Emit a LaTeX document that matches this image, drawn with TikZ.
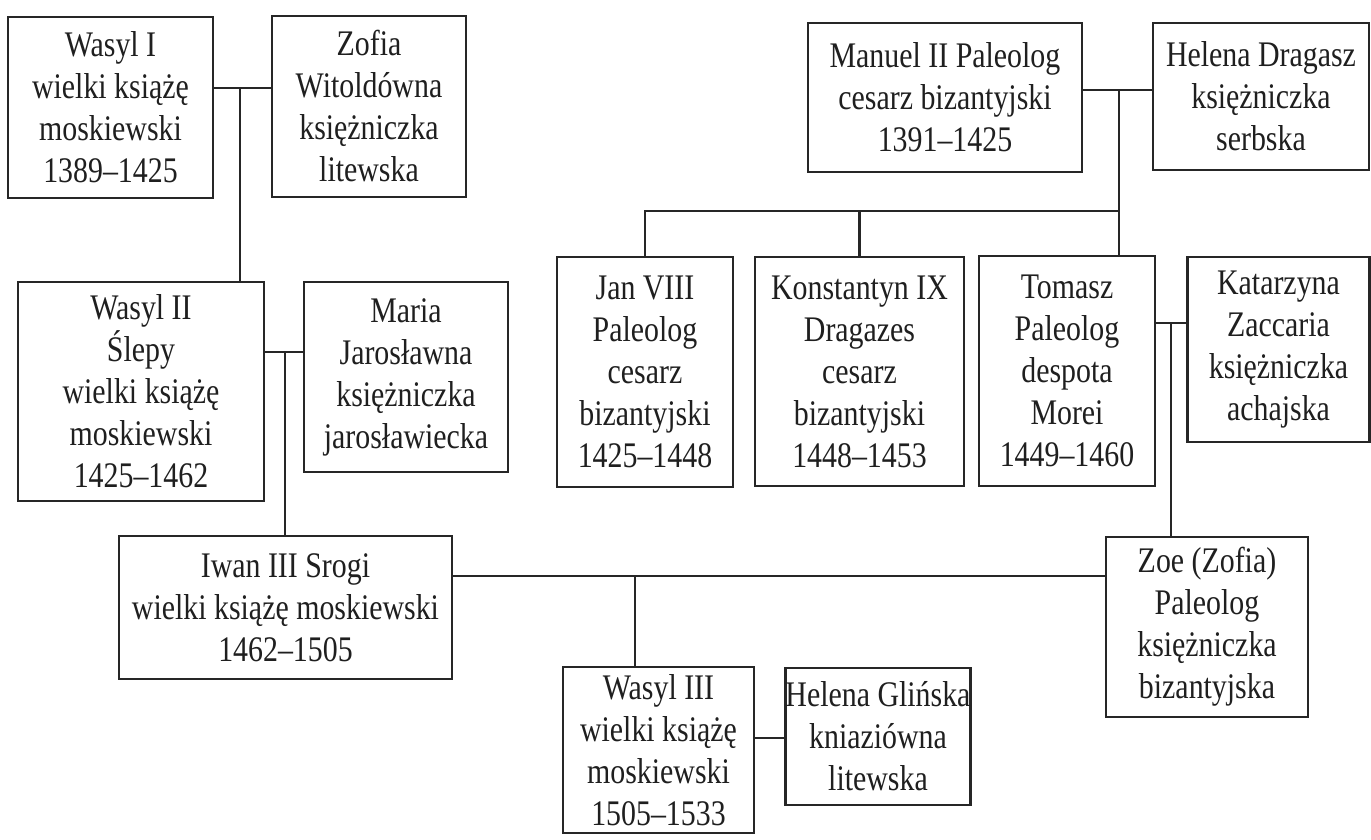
\documentclass[tikz,border=0pt]{standalone}
\usepackage{fontspec}
\setmainfont{Liberation Serif}[FakeStretch=0.83]
\begin{document}
\begin{tikzpicture}[x=1pt,y=-1pt,
  box/.style={draw=black!85, line width=2.6pt, inner sep=0pt, align=center,
    font=\fontsize{36}{42}\selectfont, text=black!88},
  conn/.style={draw=black!85, line width=2.2pt}]
\useasboundingbox[fill=white] (0,0) rectangle (1371,840);
% Moscow line
\node[box, minimum width=205pt, minimum height=181pt] (wasyl1) at (110.5,107.5) {Wasyl I\\wielki książę\\moskiewski\\1389–1425};
\node[box, minimum width=194pt, minimum height=181pt] (zofia) at (369,106.5) {Zofia\\Witoldówna\\księżniczka\\litewska};
\node[box, minimum width=246pt, minimum height=219pt] (wasyl2) at (141,391.5) {Wasyl II\\Ślepy\\wielki książę\\moskiewski\\1425–1462};
\node[box, minimum width=204pt, minimum height=190pt] (maria) at (406,377) {Maria\\Jarosławna\\księżniczka\\jarosławiecka};
\node[box, minimum width=333pt, minimum height=143pt] (iwan) at (285.5,607.5) {Iwan III Srogi\\wielki książę moskiewski\\1462–1505};
% Byzantine line
\node[box, minimum width=274pt, minimum height=149pt] (manuel) at (945,97.5) {Manuel II Paleolog\\cesarz bizantyjski\\1391–1425};
\node[box, minimum width=216pt, minimum height=147pt] (helenad) at (1261,96.5) {Helena Dragasz\\księżniczka\\serbska};
\node[box, minimum width=176pt, minimum height=230pt] (jan) at (645,372) {Jan VIII\\Paleolog\\cesarz\\bizantyjski\\1425–1448};
\node[box, minimum width=209pt, minimum height=229pt] (konst) at (859.5,371.5) {Konstantyn IX\\Dragazes\\cesarz\\bizantyjski\\1448–1453};
\node[box, minimum width=176pt, minimum height=230pt] (tomasz) at (1067,371) {Tomasz\\Paleolog\\despota\\Morei\\1449–1460};
\node[box, minimum width=182pt, minimum height=185pt] (katarz) at (1278.5,349.5) {Katarzyna\\Zaccaria\\księżniczka\\achajska};
\node[box, minimum width=202pt, minimum height=180pt] (zoe) at (1207,627) {Zoe (Zofia)\\Paleolog\\księżniczka\\bizantyjska};
\node[box, minimum width=191pt, minimum height=166pt] (wasyl3) at (658.5,750) {Wasyl III\\wielki książę\\moskiewski\\1505–1533};
\node[box, minimum width=182pt, minimum height=137pt] (helenag) at (878,736.5) {Helena Glińska\\kniaziówna\\litewska};
% junction points
\coordinate (m1) at (240,88);
\coordinate (m2) at (285,352);
\coordinate (m3) at (1119,90);
\coordinate (bar) at (1119,211);
\coordinate (m4) at (1171,323);
\coordinate (m5) at (635,576);
\coordinate (m6) at (770,738);
% connectors
\draw[conn] (m1 -| wasyl1.east) -- (m1 -| zofia.west);
\draw[conn] (m1) -- (m1 |- wasyl2.north);
\draw[conn] (m2 -| wasyl2.east) -- (m2 -| maria.west);
\draw[conn] (m2) -- (m2 |- iwan.north);
\draw[conn] (m3 -| manuel.east) -- (m3 -| helenad.west);
\draw[conn] (m3) -- (m3 |- tomasz.north);
\draw[conn] (bar) -- (bar -| jan.north) -- (jan.north);
\draw[conn] (bar -| konst.north) -- (konst.north);
\draw[conn] (m4 -| tomasz.east) -- (m4 -| katarz.west);
\draw[conn] (m4) -- (m4 |- zoe.north);
\draw[conn] (m5 -| iwan.east) -- (m5 -| zoe.west);
\draw[conn] (m5) -- (m5 |- wasyl3.north);
\draw[conn] (m6 -| wasyl3.east) -- (m6 -| helenag.west);
\end{tikzpicture}
\end{document}
